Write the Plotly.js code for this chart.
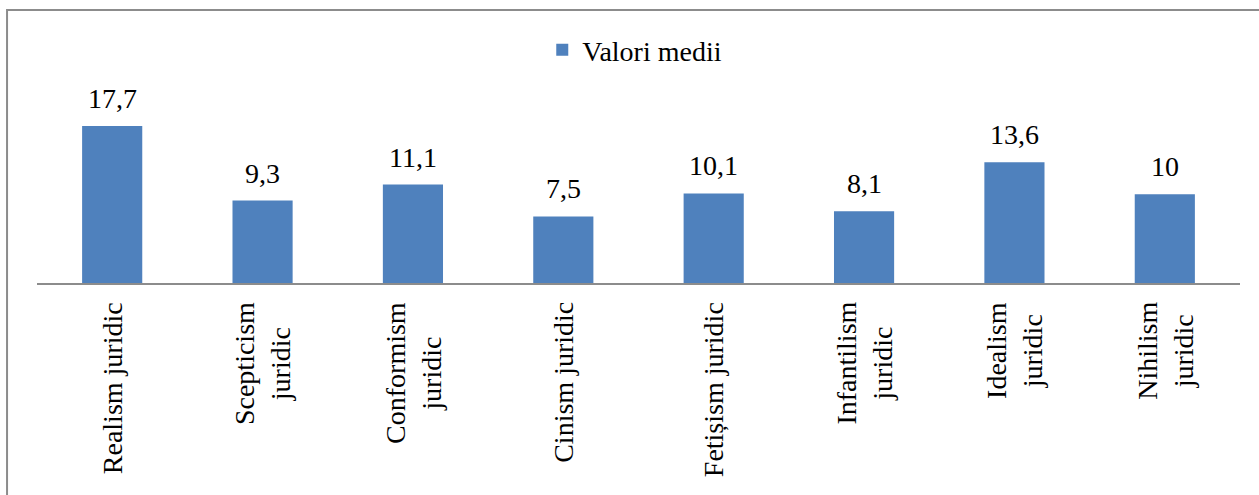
<!DOCTYPE html>
<html>
<head>
<meta charset="utf-8">
<script src="https://cdn.plot.ly/plotly-3.0.1.min.js"></script>
<style>html,body{margin:0;padding:0;background:#fff;}#chart{width:1259px;height:495px;}</style>
</head>
<body>
<div id="chart"></div>
<script>
const categories = ["Realism juridic", "Scepticism juridic", "Conformism juridic", "Cinism juridic", "Fetișism juridic", "Infantilism juridic", "Idealism juridic", "Nihilism juridic"];
const tickLabels = ["Realism juridic", "Scepticism<br>juridic", "Conformism<br>juridic", "Cinism juridic", "Fetișism juridic", "Infantilism<br>juridic", "Idealism<br>juridic", "Nihilism<br>juridic"];
const values = [17.7, 9.3, 11.1, 7.5, 10.1, 8.1, 13.6, 10];
const seriesName = "Valori medii";

const FONT = "Liberation Serif";

const trace = {
  type: 'bar',
  x: categories,
  y: values,
  name: seriesName,
  marker: {color: '#4F81BD', line: {width: 0}},
  showlegend: true,
  hoverinfo: 'x+y'
};

const valueAnn = categories.map((c, i) => ({
  x: c, y: values[i], xref: 'x', yref: 'y',
  text: String(values[i]).replace('.', ','),
  showarrow: false, yanchor: 'bottom', yshift: 10,
  font: {family: FONT, size: 28, color: '#000'}
}));

const tickAnn = categories.map((c, i) => ({
  x: c, y: 0, xref: 'x', yref: 'y',
  text: tickLabels[i],
  textangle: -90, align: 'center',
  showarrow: false, yanchor: 'top', xanchor: 'center', yshift: -17,
  font: {family: FONT, size: 28, color: '#000'}
}));

const layout = {
  width: 1259, height: 495,
  margin: {l: 37, r: 19, t: 13, b: 212},
  paper_bgcolor: '#fff', plot_bgcolor: '#fff',
  font: {family: FONT, size: 28, color: '#000'},
  bargap: 0.6,
  showlegend: true,
  legend: {
    x: 0.42, y: 0.863, xanchor: 'left', yanchor: 'middle',
    font: {family: FONT, size: 28, color: '#000'},
    bgcolor: 'rgba(0,0,0,0)'
  },
  xaxis: {
    type: 'category',
    ticks: '', showticklabels: false,
    showline: true, linecolor: '#8c8c8c', linewidth: 2,
    showgrid: false, zeroline: false
  },
  yaxis: {
    range: [0, 30.44],
    showgrid: false, zeroline: false, showticklabels: false, showline: false, ticks: ''
  },
  annotations: valueAnn.concat(tickAnn),
  shapes: [{
    type: 'rect', xref: 'paper', yref: 'paper',
    x0: -0.0249, x1: 1.2, y0: -1, y1: 1.0111,
    line: {color: '#8c8c8c', width: 2}, fillcolor: 'rgba(0,0,0,0)'
  }]
};

Plotly.newPlot('chart', [trace], layout, {displayModeBar: false, staticPlot: true});
</script>
</body>
</html>
